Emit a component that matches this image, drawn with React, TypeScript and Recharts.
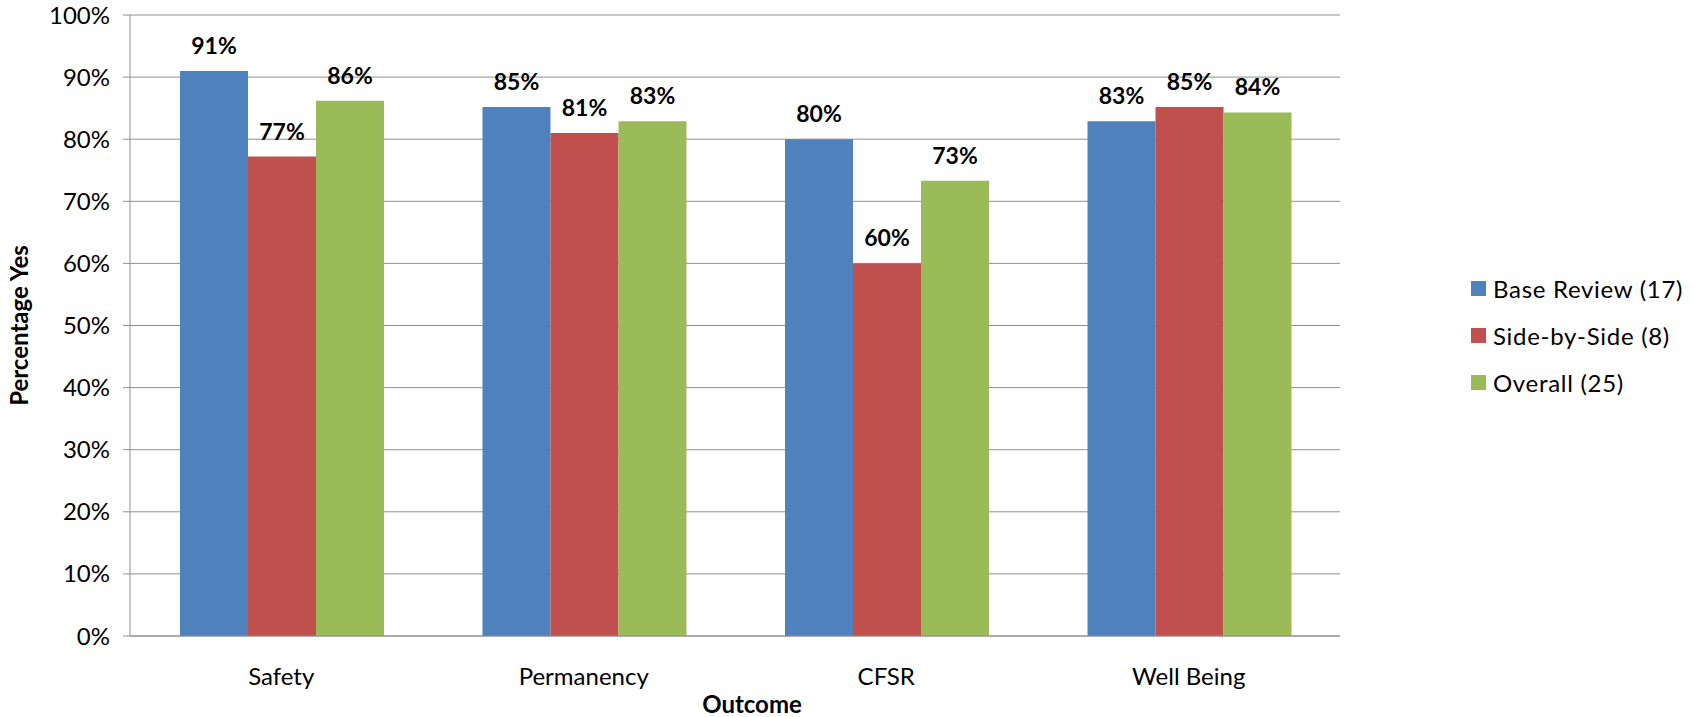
import React from 'react';
import { BarChart, Bar, XAxis, YAxis, CartesianGrid, Legend, LabelList } from 'recharts';

const categories = ['Safety', 'Permanency', 'CFSR', 'Well Being'];
const baseReview = [91, 85.2, 80, 82.9];
const sideBySide = [77.2, 81, 60, 85.2];
const overall = [86.2, 82.9, 73.3, 84.3];
const yTicks = [0, 10, 20, 30, 40, 50, 60, 70, 80, 90, 100];
const seriesNames = ['Base Review (17)', 'Side-by-Side (8)', 'Overall (25)'];
const colors = ['#4F81BD', '#C0504D', '#9BBB59'];

const data = categories.map((c, i) => ({
  name: c,
  base: baseReview[i],
  side: sideBySide[i],
  overall: overall[i],
}));

const FONT = 'Lato, "Open Sans", sans-serif';
const GRID = '#8F8F8F';

const pct = (v: any) => `${Math.round(Number(v))}%`;

const LegendContent = () => (
  <div style={{ fontFamily: FONT, fontSize: 24, color: '#000', whiteSpace: 'nowrap', width: 223 }}>
    {seriesNames.map((n, i) => (
      <div key={n} style={{ display: 'flex', alignItems: 'center', height: 47 }}>
        <div style={{ width: 15, height: 15, minWidth: 15, flexShrink: 0, background: colors[i], marginRight: 7 }} />
        <span style={{ lineHeight: '24px', letterSpacing: 0.7 }}>{n}</span>
      </div>
    ))}
  </div>
);

const labelStyle = { fill: '#000', fontSize: 23, fontWeight: 700, fontFamily: FONT };

export default function App() {
  return (
    <div style={{ position: 'absolute', left: 0, top: 0, background: '#fff' }}>
      <BarChart
        width={1694}
        height={717}
        data={data}
        margin={{ top: 15, right: 354, bottom: 0, left: 0 }}
        barCategoryGap={50}
        barGap={0}
      >
        <CartesianGrid vertical={false} stroke={GRID} strokeWidth={1} />
        <XAxis
          dataKey="name"
          height={81}
          tickLine={false}
          tickSize={0}
          tickMargin={32}
          axisLine={{ stroke: GRID }}
          tick={{ fill: '#000', fontSize: 24, fontFamily: FONT }}
          label={{
            value: 'Outcome',
            position: 'insideBottom',
            offset: 4,
            dx: 17,
            style: { fill: '#000', fontSize: 24, fontWeight: 700, fontFamily: FONT },
          }}
        />
        <YAxis
          width={130}
          domain={[0, 100]}
          ticks={yTicks}
          interval={0}
          tickFormatter={(v: number) => `${v}%`}
          tickSize={7}
          tickMargin={13}
          tickLine={{ stroke: GRID }}
          axisLine={{ stroke: GRID }}
          tick={{ fill: '#000', fontSize: 24, fontFamily: FONT }}
          label={{
            value: 'Percentage Yes',
            angle: -90,
            position: 'insideLeft',
            offset: 19,
            style: { fill: '#000', fontSize: 24, fontWeight: 700, fontFamily: FONT, textAnchor: 'middle' },
          }}
        />
        <Legend
          layout="vertical"
          align="right"
          verticalAlign="top"
          content={<LegendContent />}
          wrapperStyle={{ position: 'absolute', left: 1471, top: 265, width: 0, height: 0, overflow: 'visible' }}
        />
        <Bar dataKey="base" name={seriesNames[0]} fill={colors[0]} isAnimationActive={false}>
          <LabelList dataKey="base" position="top" offset={17} formatter={pct} style={labelStyle} />
        </Bar>
        <Bar dataKey="side" name={seriesNames[1]} fill={colors[1]} isAnimationActive={false}>
          <LabelList dataKey="side" position="top" offset={17} formatter={pct} style={labelStyle} />
        </Bar>
        <Bar dataKey="overall" name={seriesNames[2]} fill={colors[2]} isAnimationActive={false}>
          <LabelList dataKey="overall" position="top" offset={17} formatter={pct} style={labelStyle} />
        </Bar>
      </BarChart>
    </div>
  );
}
